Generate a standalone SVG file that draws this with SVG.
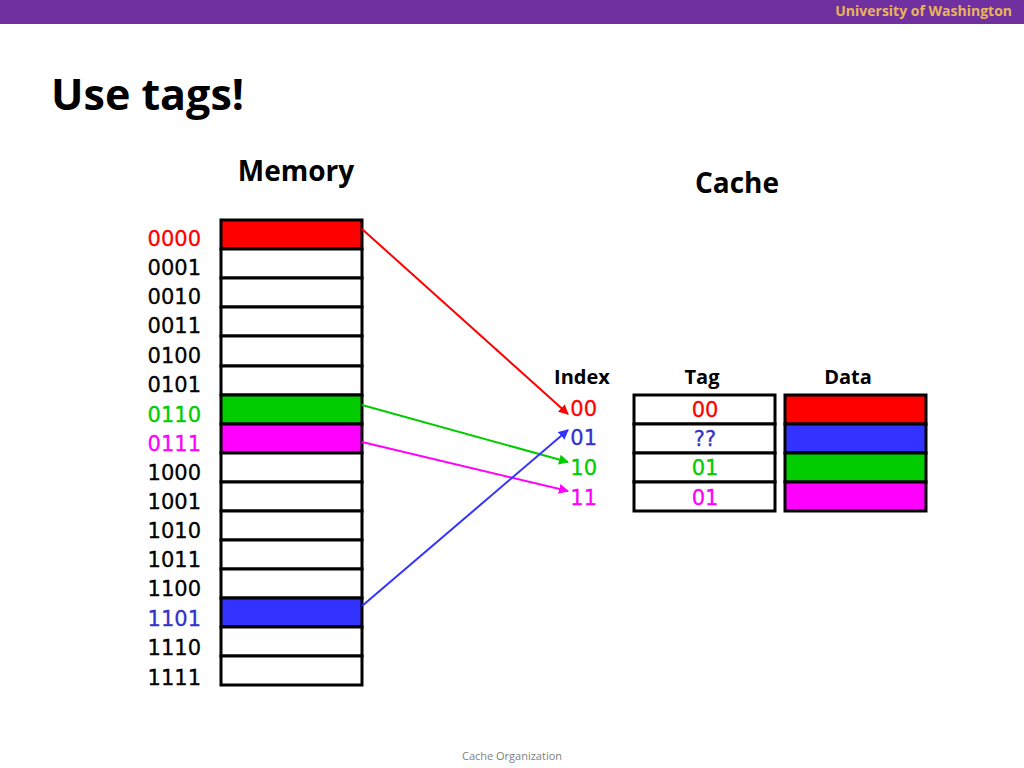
<svg xmlns="http://www.w3.org/2000/svg" width="1024" height="768" viewBox="0 0 1024 768">
<style>
.lbl{font-family:"DejaVu Sans",sans-serif;font-size:21px;text-anchor:end;stroke-width:0.3;paint-order:stroke}
.hd{font-family:"Open Sans","Liberation Sans",sans-serif;font-weight:bold}
.cell{stroke:#000;stroke-width:3}
.w{fill:#fff}
.c{font-family:"DejaVu Sans",sans-serif;font-size:21px;text-anchor:middle;stroke-width:0.3}
</style>
<defs>
<marker id="aR" viewBox="0 0 10 10" refX="9" refY="5" markerWidth="5" markerHeight="5" orient="auto"><path d="M0,0L10,5L0,10z" fill="#FF0000"/></marker>
<marker id="aG" viewBox="0 0 10 10" refX="9" refY="5" markerWidth="5" markerHeight="5" orient="auto"><path d="M0,0L10,5L0,10z" fill="#00CC00"/></marker>
<marker id="aM" viewBox="0 0 10 10" refX="9" refY="5" markerWidth="5" markerHeight="5" orient="auto"><path d="M0,0L10,5L0,10z" fill="#FF00FF"/></marker>
<marker id="aB" viewBox="0 0 10 10" refX="9" refY="5" markerWidth="5" markerHeight="5" orient="auto"><path d="M0,0L10,5L0,10z" fill="#3333FF"/></marker>
</defs>
<rect width="1024" height="768" fill="#fff"/>
<g id="header">
<rect x="0" y="0" width="1024" height="24" fill="#7030A0"/>
<text x="1012" y="16" text-anchor="end" class="hd" font-size="14" fill="#E8B55A">University of Washington</text>
</g>
<g id="title"><text x="51" y="110" class="hd" font-size="43" fill="#000">Use tags!</text></g>
<g id="memory-title"><text x="296" y="181" class="hd" font-size="28" text-anchor="middle">Memory</text></g>
<g id="cache-title"><text x="737" y="193" class="hd" font-size="28" text-anchor="middle">Cache</text></g>
<g id="memory">
<rect class="cell" x="221" y="220" width="141" height="29" fill="#FF0000"/>
<rect class="cell w" x="221" y="249" width="141" height="29"/>
<rect class="cell w" x="221" y="278" width="141" height="29"/>
<rect class="cell w" x="221" y="307" width="141" height="29"/>
<rect class="cell w" x="221" y="336" width="141" height="30"/>
<rect class="cell w" x="221" y="366" width="141" height="29"/>
<rect class="cell" x="221" y="395" width="141" height="29" fill="#00CC00"/>
<rect class="cell" x="221" y="424" width="141" height="29" fill="#FF00FF"/>
<rect class="cell w" x="221" y="453" width="141" height="29"/>
<rect class="cell w" x="221" y="482" width="141" height="29"/>
<rect class="cell w" x="221" y="511" width="141" height="29"/>
<rect class="cell w" x="221" y="540" width="141" height="29"/>
<rect class="cell w" x="221" y="569" width="141" height="29"/>
<rect class="cell" x="221" y="598" width="141" height="29" fill="#3333FF"/>
<rect class="cell w" x="221" y="627" width="141" height="29"/>
<rect class="cell w" x="221" y="656" width="141" height="29"/>
</g>
<g id="addresses">
<text class="lbl" x="201" y="246" fill="#FF0000" stroke="#FF0000">0000</text>
<text class="lbl" x="201" y="275" stroke="#000">0001</text>
<text class="lbl" x="201" y="304" stroke="#000">0010</text>
<text class="lbl" x="201" y="333" stroke="#000">0011</text>
<text class="lbl" x="201" y="363" stroke="#000">0100</text>
<text class="lbl" x="201" y="392" stroke="#000">0101</text>
<text class="lbl" x="201" y="422" fill="#00CC00" stroke="#00CC00">0110</text>
<text class="lbl" x="201" y="451" fill="#FF00FF" stroke="#FF00FF">0111</text>
<text class="lbl" x="201" y="480" stroke="#000">1000</text>
<text class="lbl" x="201" y="509" stroke="#000">1001</text>
<text class="lbl" x="201" y="538" stroke="#000">1010</text>
<text class="lbl" x="201" y="567" stroke="#000">1011</text>
<text class="lbl" x="201" y="596" stroke="#000">1100</text>
<text class="lbl" x="201" y="626" fill="#3333CC" stroke="#3333CC">1101</text>
<text class="lbl" x="201" y="655" stroke="#000">1110</text>
<text class="lbl" x="201" y="685" stroke="#000">1111</text>
</g>
<g id="cache-headers" class="hd" font-size="20" text-anchor="middle">
<text x="582" y="384">Index</text>
<text x="702" y="384">Tag</text>
<text x="848" y="384">Data</text>
</g>
<g id="index">
<text class="lbl" x="597" y="416" fill="#FF0000" stroke="#FF0000">00</text>
<text class="lbl" x="597" y="445" fill="#3333CC" stroke="#3333CC">01</text>
<text class="lbl" x="597" y="475" fill="#00CC00" stroke="#00CC00">10</text>
<text class="lbl" x="597" y="505" fill="#FF00FF" stroke="#FF00FF">11</text>
</g>
<g id="tag">
<rect class="cell w" x="634" y="395" width="141" height="29"/>
<rect class="cell w" x="634" y="424" width="141" height="29"/>
<rect class="cell w" x="634" y="453" width="141" height="29"/>
<rect class="cell w" x="634" y="482" width="141" height="29"/>
<text class="c" x="705" y="417" fill="#FF0000" stroke="#FF0000">00</text>
<text class="c" x="705" y="446" fill="#3333CC" stroke="#3333CC">??</text>
<text class="c" x="705" y="475" fill="#00CC00" stroke="#00CC00">01</text>
<text class="c" x="705" y="505" fill="#FF00FF" stroke="#FF00FF">01</text>
</g>
<g id="data">
<rect class="cell" x="785" y="395" width="141" height="29" fill="#FF0000"/>
<rect class="cell" x="785" y="424" width="141" height="29" fill="#3333FF"/>
<rect class="cell" x="785" y="453" width="141" height="29" fill="#00CC00"/>
<rect class="cell" x="785" y="482" width="141" height="29" fill="#FF00FF"/>
</g>
<g id="connectors" stroke-width="2" fill="none">
<line x1="362" y1="229" x2="568" y2="414" stroke="#FF0000" marker-end="url(#aR)"/>
<line x1="362" y1="405" x2="568" y2="462" stroke="#00CC00" marker-end="url(#aG)"/>
<line x1="362" y1="442" x2="568" y2="491" stroke="#FF00FF" marker-end="url(#aM)"/>
<line x1="362" y1="606" x2="568" y2="430" stroke="#3333FF" marker-end="url(#aB)"/>
</g>
<g id="footer"><text x="512" y="760" text-anchor="middle" font-family="Open Sans, Liberation Sans, sans-serif" font-size="11" fill="#808080">Cache Organization</text></g>
</svg>
